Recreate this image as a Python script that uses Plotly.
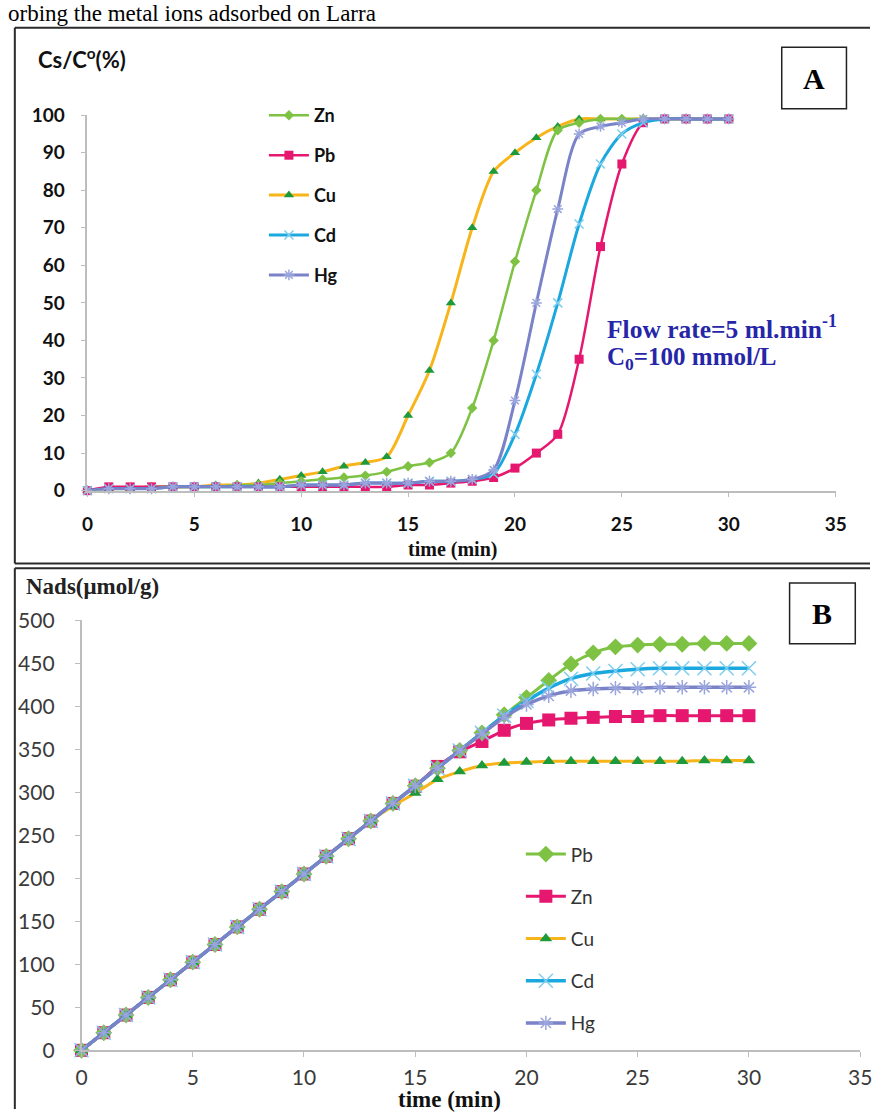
import plotly.graph_objects as go

W, H = 881, 1120

time = list(range(31))

# ---------- Panel A : breakthrough curves Cs/C0 (%) ----------
zn_A = [0, 0.5, 0.5, 1, 1, 1, 1, 1.5, 1.5, 2, 2.5, 3, 3.5, 4, 5, 6.5, 7.5, 10, 22, 40, 61, 80, 96, 98, 99, 99, 99, 99, 99, 99, 99]
pb_A = [0, 1, 1, 1, 1, 1, 1, 1, 1, 1, 1, 1, 1, 1, 1, 1.5, 1.5, 2, 2.5, 3.5, 6, 10, 15, 35, 65, 87, 98, 99, 99, 99, 99]
cu_A = [0, 0.5, 0.5, 1, 1, 1, 1.5, 1.5, 2, 3, 4, 5, 6.5, 7.5, 9, 20, 32, 50, 70, 85, 90, 94, 97, 99, 99, 99, 99, 99, 99, 99, 99]
cd_A = [0, 0.5, 0.5, 0.5, 1, 1, 1, 1, 1, 1, 1.5, 1.5, 1.5, 2, 2, 2, 2.5, 2.5, 3, 4.5, 15, 31, 50, 71, 87, 95, 98, 99, 99, 99, 99]
hg_A = [0, 0.5, 0.5, 0.5, 1, 1, 1, 1, 1, 1, 1.5, 1.5, 1.5, 2, 2, 2, 2.5, 2.5, 3, 5.5, 24, 50, 75, 95, 97, 98, 99, 99, 99, 99, 99]

# ---------- Panel B : Nads (umol/g) ----------
pb_B = [0, 20.5, 41, 61.5, 82, 102.5, 123, 143.5, 164, 184.5, 205, 225.5, 246, 266.5, 287, 307.5, 328, 348.5, 369, 390, 410, 430, 449, 462, 469, 471, 472, 472, 473, 473, 473]
zn_B = [0, 20.5, 41, 61.5, 82, 102.5, 123, 143.5, 164, 184.5, 205, 225.5, 246, 266.5, 287, 307, 330, 347, 359, 372, 380, 384, 386, 387, 388, 388, 389, 389, 389, 389, 389]
cu_B = [0, 20.5, 41, 61.5, 82, 102.5, 123, 143.5, 164, 184.5, 205, 225.5, 246, 266.5, 284, 299, 315, 324, 331, 334, 335, 336, 336, 336, 336, 336, 336, 336, 337, 337, 337]
cd_B = [0, 20.5, 41, 61.5, 82, 102.5, 123, 143.5, 164, 184.5, 205, 225.5, 246, 266.5, 287, 307.5, 328, 348.5, 369, 389, 406, 421, 432, 438, 441, 443, 444, 444, 444, 444, 444]
hg_B = [0, 20.5, 41, 61.5, 82, 102.5, 123, 143.5, 164, 184.5, 205, 225.5, 246, 266.5, 287, 307.5, 328, 348.5, 368, 387, 402, 412, 418, 420, 421, 421, 422, 422, 422, 422, 422]

x_ticks = [0, 5, 10, 15, 20, 25, 30, 35]
yA_ticks = [0, 10, 20, 30, 40, 50, 60, 70, 80, 90, 100]
yB_ticks = [0, 50, 100, 150, 200, 250, 300, 350, 400, 450, 500]

GREEN = "#7DC242"
MAGENTA = "#E6176F"
ORANGE = "#F7B51B"
TRI = "#1E9A3C"
CYAN = "#1BA8DE"
CYAN_M = "#7FCDEF"
SLATE = "#7A82C8"
SLATE_M = "#9BA5DD"


def px(x):
    return x / W


def py(y):
    return 1 - y / H


fig = go.Figure()

specA = [
    ("Cu", cu_A, ORANGE, "triangle-up", TRI, 9, 3),
    ("Zn", zn_A, GREEN, "diamond", GREEN, 8, 2.5),
    ("Pb", pb_A, MAGENTA, "square", MAGENTA, 9, 2.5),
    ("Cd", cd_A, CYAN, "x-thin-open", CYAN_M, 9, 3),
    ("Hg", hg_A, SLATE, "asterisk-open", SLATE_M, 9, 3),
]
rankA = {"Zn": 1, "Pb": 2, "Cu": 3, "Cd": 4, "Hg": 5}
for name, ys, lc, sym, mc, ms, lw in specA:
    open_sym = sym.endswith("open")
    fig.add_trace(go.Scatter(
        x=time, y=ys, name=name, mode="lines+markers",
        line=dict(color=lc, width=lw, shape="spline", smoothing=0.8),
        marker=dict(symbol=sym, size=ms, color=mc,
                    line=dict(color=mc, width=1.5 if open_sym else 0)),
        xaxis="x", yaxis="y", legend="legend", legendgroup="A" + name,
        legendrank=rankA[name], cliponaxis=False,
    ))

specB = [
    ("Zn", zn_B, MAGENTA, "square", MAGENTA, 13, 3),
    ("Pb", pb_B, GREEN, "diamond", GREEN, 13, 3),
    ("Cu", cu_B, ORANGE, "triangle-up", TRI, 11, 3),
    ("Cd", cd_B, CYAN, "x-thin-open", CYAN_M, 14, 3.5),
    ("Hg", hg_B, SLATE, "asterisk-open", SLATE_M, 12, 3.5),
]
rankB = {"Pb": 1, "Zn": 2, "Cu": 3, "Cd": 4, "Hg": 5}
for name, ys, lc, sym, mc, ms, lw in specB:
    open_sym = sym.endswith("open")
    fig.add_trace(go.Scatter(
        x=time, y=ys, name=name, mode="lines+markers",
        line=dict(color=lc, width=lw, shape="spline", smoothing=0.6),
        marker=dict(symbol=sym, size=ms, color=mc,
                    line=dict(color=mc, width=1.5 if open_sym else 0)),
        xaxis="x2", yaxis="y2", legend="legend2", legendgroup="B" + name,
        legendrank=rankB[name], cliponaxis=False,
    ))

axis_common = dict(showgrid=False, zeroline=False, showline=True,
                   linecolor="#BDBDBD", linewidth=1.5, ticks="outside",
                   ticklen=5, tickcolor="#BDBDBD")

fig.update_layout(
    width=W, height=H,
    margin=dict(l=0, r=0, t=0, b=0),
    paper_bgcolor="white", plot_bgcolor="white",
    showlegend=True,
    xaxis=dict(domain=[px(83), px(846)], range=[0, 35], tickvals=x_ticks,
               anchor="y", ticklabelstandoff=11,
               tickfont=dict(family="Lato", size=19, color="#111", weight="bold"),
               **axis_common),
    yaxis=dict(domain=[py(487.5), py(103.5)], range=[0, 100], tickvals=yA_ticks,
               anchor="x", ticklabelstandoff=12,
               tickfont=dict(family="Lato", size=19, color="#111", weight="bold"),
               **axis_common),
    xaxis2=dict(domain=[px(77), px(871)], range=[0, 35], tickvals=x_ticks,
                anchor="y2", ticklabelstandoff=3,
                tickfont=dict(family="Lato", size=21, color="#3a3a3a"),
                **axis_common),
    yaxis2=dict(domain=[py(1060), py(620)], range=[0, 500], tickvals=yB_ticks,
                anchor="x2", ticklabelstandoff=16,
                tickfont=dict(family="Lato", size=21, color="#3a3a3a"),
                **axis_common),
    legend=dict(x=px(263), y=py(85), xanchor="left", yanchor="top",
                bgcolor="rgba(0,0,0,0)", tracegroupgap=13.5,
                font=dict(family="Lato", size=18, color="#111", weight="bold"),
                itemwidth=40),
    legend2=dict(x=px(525), y=py(840), xanchor="left", yanchor="top",
                 bgcolor="rgba(0,0,0,0)", tracegroupgap=14.5,
                 font=dict(family="Lato", size=19, color="#333"),
                 itemwidth=40),
)

FRAME = dict(color="#2a2a2a", width=2)
shapes = [
    # panel A frame (open to the right, as in the cropped original)
    dict(type="line", x0=px(9), x1=px(881), y0=py(14), y1=py(14), line=FRAME),
    dict(type="line", x0=px(9), x1=px(9), y0=py(14), y1=py(562), line=FRAME),
    dict(type="line", x0=px(9), x1=px(881), y0=py(562), y1=py(562), line=FRAME),
    # panel B frame
    dict(type="line", x0=px(9), x1=px(881), y0=py(567), y1=py(567), line=FRAME),
    dict(type="line", x0=px(9), x1=px(9), y0=py(567), y1=py(1120), line=FRAME),
    # label boxes
    dict(type="rect", x0=px(791), x1=px(857), y0=py(97), y1=py(34),
         line=dict(color="#222", width=1.5)),
    dict(type="rect", x0=px(799), x1=px(866), y0=py(644), y1=py(582),
         line=dict(color="#222", width=1.5)),
]
for s in shapes:
    s.update(xref="paper", yref="paper")
fig.update_layout(shapes=shapes)

serif = "Liberation Serif"
ann = [
    dict(text="orbing the metal ions adsorbed on Larra", x=px(0), y=py(-1),
         xanchor="left", yanchor="middle",
         font=dict(family=serif, size=23, color="#000")),
    dict(text="A", x=px(824), y=py(66), xanchor="center", yanchor="middle",
         font=dict(family=serif, size=30, color="#000", weight="bold")),
    dict(text="B", x=px(832.5), y=py(613), xanchor="center", yanchor="middle",
         font=dict(family=serif, size=30, color="#000", weight="bold")),
    dict(text="Cs/C<sup>o</sup>(%)", x=px(31), y=py(46), xanchor="left", yanchor="middle",
         font=dict(family="Lato", size=22, color="#111", weight="bold")),
    dict(text="time (min)", x=px(455), y=py(548), xanchor="center", yanchor="middle",
         font=dict(family=serif, size=20, color="#111", weight="bold")),
    dict(text="Flow rate=5 ml.min<sup>-1</sup>", x=px(611), y=py(321), xanchor="left",
         yanchor="middle", font=dict(family=serif, size=25.5, color="#2626A8", weight="bold")),
    dict(text="C<sub>0</sub>=100 mmol/L", x=px(611), y=py(352), xanchor="left",
         yanchor="middle", font=dict(family=serif, size=25, color="#2626A8", weight="bold")),
    dict(text="Nads(μmol/g)", x=px(18), y=py(586), xanchor="left", yanchor="middle",
         font=dict(family=serif, size=23, color="#222", weight="bold")),
    dict(text="time (min)", x=px(452), y=py(1110), xanchor="center", yanchor="middle",
         font=dict(family=serif, size=23, color="#111", weight="bold")),
]
for a in ann:
    a.update(xref="paper", yref="paper", showarrow=False)
fig.update_layout(annotations=ann)

fig.write_html("out.html")
